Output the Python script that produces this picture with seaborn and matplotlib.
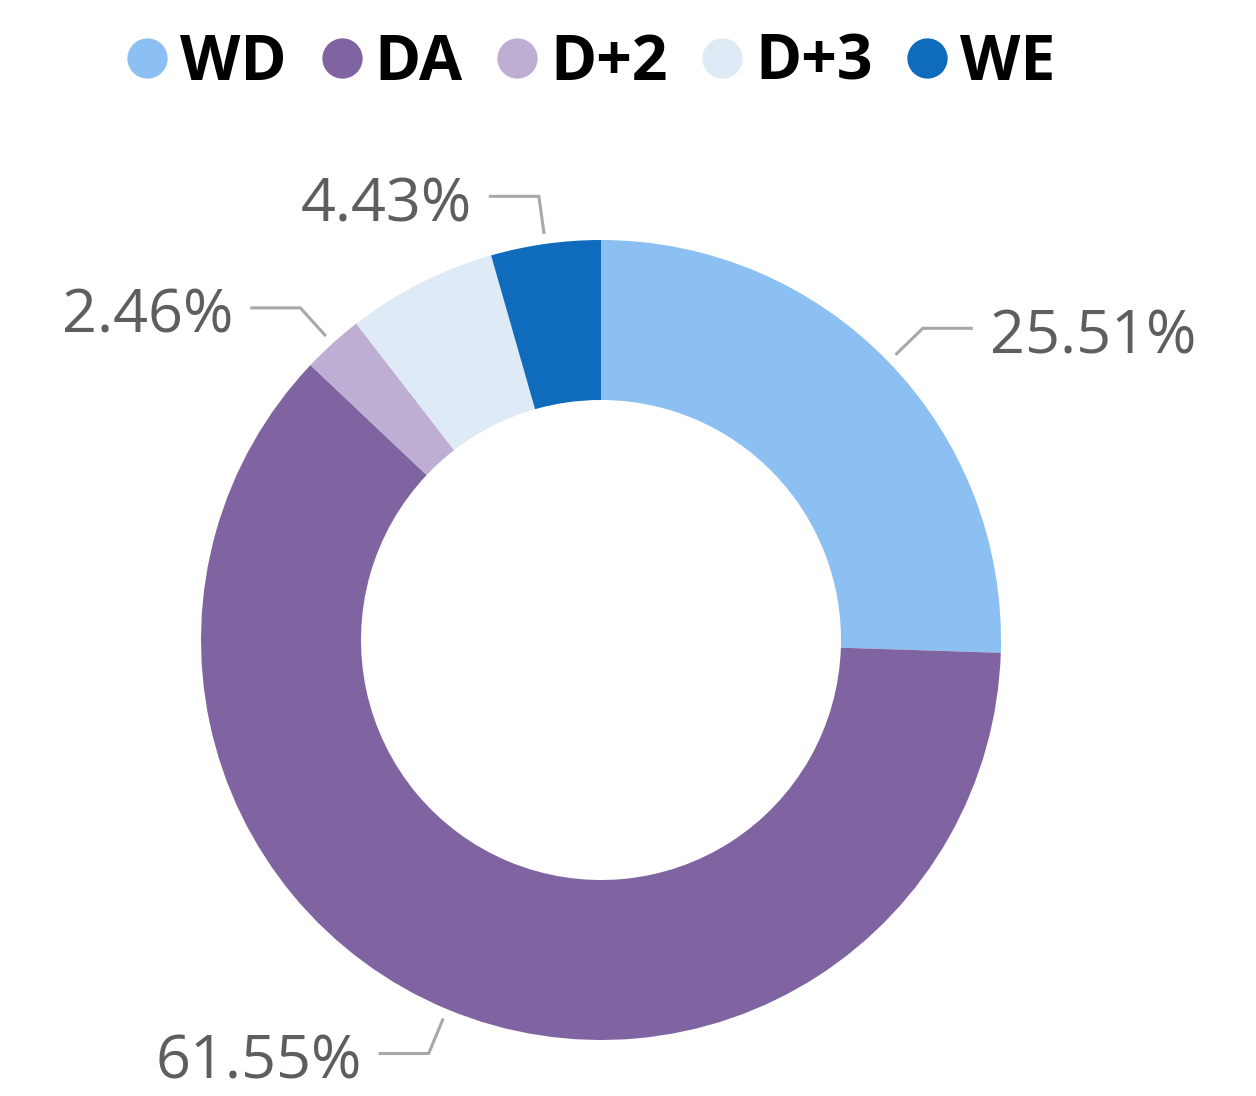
import numpy as np
import matplotlib
matplotlib.use("Agg")
from matplotlib import pyplot as plt
from matplotlib.lines import Line2D
import seaborn as sns

# data (percent of total)
categories = ["WD", "DA", "D+2", "D+3", "WE"]
shares = [25.51, 61.55, 2.46, 6.05, 4.43]
labelled = [True, True, True, False, True]  # D+3 label is hidden in the original
colors = ["#8DC0F2", "#8064A2", "#BEAED4", "#DEEAF6", "#0F6CBD"]

sns.set_theme(style="white")
plt.rcParams["font.family"] = ["Open Sans", "DejaVu Sans"]

W, H = 1256, 1096
fig = plt.figure(figsize=(W / 100, H / 100), dpi=100)
fig.set_facecolor("white")
ax = fig.add_axes([0, 0, 1, 1])

cx, cy = 601, H - 640
r_out, ring = 400, 160

ax.pie(
    shares,
    colors=colors,
    startangle=90,
    counterclock=False,
    center=(cx, cy),
    radius=r_out,
    wedgeprops=dict(width=ring, linewidth=0),
)
# pie() resets the limits, so set the pixel-like frame afterwards
ax.set_xlim(0, W)
ax.set_ylim(0, H)
ax.set_aspect("equal")
ax.axis("off")

# leader lines + labels
total = sum(shares)
cum = np.cumsum([0] + shares[:-1])
for share, start, show in zip(shares, cum, labelled):
    if not show:
        continue
    ang = np.deg2rad((start + share / 2) / total * 360)  # clockwise from top
    sx, sy = np.sin(ang), np.cos(ang)
    x0, y0 = cx + 410 * sx, cy + 410 * sy
    x1, y1 = cx + 448 * sx, cy + 448 * sy
    side = 1 if sx > 0 else -1
    x2 = x1 + side * 50
    ax.plot([x0, x1, x2], [y0, y1, y1], color="#A8A8A8", lw=2.2,
            solid_capstyle="butt", solid_joinstyle="miter")
    ax.text(x2 + side * 17, y1 - 9, f"{share:.2f}%",
            ha="left" if side > 0 else "right", va="center",
            fontsize=44, color="#605E5C")

handles = [Line2D([], [], marker="o", linestyle="", markersize=29,
                  markerfacecolor=c, markeredgewidth=0) for c in colors]
leg = fig.legend(handles, categories, loc="center", ncol=5,
                 bbox_to_anchor=(0.472, 1 - 63 / H), frameon=False,
                 handlelength=0.55, handletextpad=0.25, columnspacing=0.6,
                 prop=dict(size=45, weight="bold"), labelcolor="black")

fig.savefig("out.png", dpi=100, facecolor="white")
